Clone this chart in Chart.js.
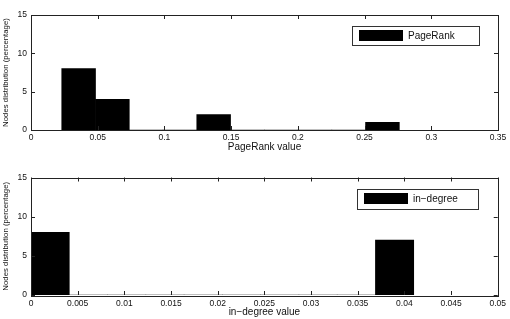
<!DOCTYPE html>
<html>
<head>
<meta charset="utf-8">
<script src="https://cdn.jsdelivr.net/npm/chart.js@4.4.1/dist/chart.umd.min.js"></script>
<style>
  html, body { margin: 0; padding: 0; background: #fff; }
  .box { position: absolute; left: 0; width: 510px; }
  #boxTop { top: 0; height: 160px; }
  #boxBot { top: 160px; height: 159px; }
</style>
</head>
<body>
<div class="box" id="boxTop"><canvas id="chartTop"></canvas></div>
<div class="box" id="boxBot"><canvas id="chartBot"></canvas></div>
<script>
// Histograma PageRank (centros de los intervalos y porcentaje de nodos)
const prCenters = [0.0357, 0.0610, 0.0863, 0.1116, 0.1369, 0.1622, 0.1875, 0.2128, 0.2381, 0.2634];
const prCounts  = [8, 4, 0, 0, 2, 0, 0, 0, 0, 1];
const prTicks   = [0, 0.05, 0.1, 0.15, 0.2, 0.25, 0.3, 0.35];

// Histograma in-degree
const inCenters = [0.00205, 0.00615, 0.01025, 0.01435, 0.01845, 0.02255, 0.02665, 0.03075, 0.03485, 0.03895];
const inCounts  = [8, 0, 0, 0, 0, 0, 0, 0, 0, 7];
const inTicks   = [0, 0.005, 0.01, 0.015, 0.02, 0.025, 0.03, 0.035, 0.04, 0.045, 0.05];

const yTicks = [0, 5, 10, 15];

const FONT = "'Liberation Sans', Arial, Helvetica, sans-serif";
const INK = '#111';

// Marco tipo MATLAB con marcas hacia dentro en los cuatro lados
const framePlugin = {
    id: 'frame',
    afterDraw(chart) {
        const { ctx, chartArea: a, scales } = chart;
        const len = 4;
        ctx.save();
        ctx.strokeStyle = '#222';
        ctx.lineWidth = 1;
        ctx.strokeRect(Math.round(a.left) + 0.5, Math.round(a.top) + 0.5,
            Math.round(a.right - a.left), Math.round(a.bottom - a.top));
        ctx.beginPath();
        scales.x.ticks.forEach(t => {
            const px = Math.round(scales.x.getPixelForValue(t.value)) + 0.5;
            ctx.moveTo(px, a.bottom); ctx.lineTo(px, a.bottom - len);
            ctx.moveTo(px, a.top); ctx.lineTo(px, a.top + len);
        });
        scales.y.ticks.forEach(t => {
            const py = Math.round(scales.y.getPixelForValue(t.value)) + 0.5;
            ctx.moveTo(a.left, py); ctx.lineTo(a.left + len, py);
            ctx.moveTo(a.right, py); ctx.lineTo(a.right - len, py);
        });
        ctx.stroke();
        ctx.restore();
    }
};

// Leyenda con recuadro, como en la figura original
const boxLegendPlugin = {
    id: 'boxLegend',
    afterDraw(chart, args, opts) {
        const { ctx } = chart;
        const ds = chart.data.datasets[0];
        ctx.save();
        ctx.fillStyle = '#fff';
        ctx.fillRect(opts.x, opts.y, opts.w, opts.h);
        ctx.strokeStyle = '#333';
        ctx.lineWidth = 1;
        ctx.strokeRect(opts.x + 0.5, opts.y + 0.5, opts.w, opts.h);
        ctx.fillStyle = ds.backgroundColor;
        ctx.fillRect(opts.x + 7, opts.y + 4, 44, 11);
        ctx.fillStyle = INK;
        ctx.font = '10px ' + FONT;
        ctx.textBaseline = 'middle';
        ctx.fillText(ds.label, opts.x + 56, opts.y + opts.h / 2 + 0.5);
        ctx.restore();
    }
};

function fmt(v) {
    return String(parseFloat(v.toFixed(4)));
}

function makeChart(id, centers, counts, label, xTicks, xTitle, cfg) {
    const ctx = document.getElementById(id).getContext('2d');
    return new Chart(ctx, {
        type: 'bar',
        data: {
            datasets: [{
                label: label,
                data: centers.map((c, i) => ({ x: c, y: counts[i] })),
                backgroundColor: '#000',
                borderWidth: 0,
                barPercentage: 1,
                categoryPercentage: 1
            }]
        },
        options: {
            responsive: true,
            maintainAspectRatio: false,
            animation: false,
            layout: { padding: cfg.padding },
            plugins: {
                legend: { display: false },
                tooltip: { enabled: false },
                boxLegend: cfg.legend
            },
            scales: {
                x: {
                    type: 'linear',
                    offset: false,
                    min: xTicks[0],
                    max: xTicks[xTicks.length - 1],
                    afterBuildTicks: s => { s.ticks = xTicks.map(v => ({ value: v })); },
                    afterFit: s => { s.height = cfg.xHeight; },
                    grid: { display: false, drawTicks: false },
                    border: { display: false },
                    ticks: {
                        autoSkip: false,
                        maxRotation: 0,
                        padding: cfg.tickPad,
                        color: INK,
                        font: { family: FONT, size: 8.5 },
                        callback: v => fmt(v)
                    },
                    title: {
                        display: true,
                        text: xTitle,
                        color: INK,
                        font: { family: FONT, size: 10 },
                        padding: 0
                    }
                },
                y: {
                    min: 0,
                    max: 15,
                    afterBuildTicks: s => { s.ticks = yTicks.map(v => ({ value: v })); },
                    afterFit: s => { s.width = 31; },
                    grid: { display: false, drawTicks: false },
                    border: { display: false },
                    ticks: {
                        padding: 4,
                        color: INK,
                        font: { family: FONT, size: 8.5 }
                    },
                    title: {
                        display: true,
                        text: 'Nodes distribution (percentage)',
                        color: INK,
                        font: { family: FONT, size: 7.8 },
                        padding: { top: 1, bottom: 0 }
                    }
                }
            }
        },
        plugins: [framePlugin, boxLegendPlugin]
    });
}

makeChart('chartTop', prCenters, prCounts, 'PageRank', prTicks, 'PageRank value', {
    padding: { left: 0, right: 12, top: 15, bottom: 7 },
    xHeight: 23,
    tickPad: 3,
    legend: { x: 352, y: 26, w: 127, h: 19 }
});

makeChart('chartBot', inCenters, inCounts, 'in\u2212degree', inTicks, 'in\u2212degree value', {
    padding: { left: 0, right: 11, top: 17.5, bottom: 1 },
    xHeight: 23,
    tickPad: 4,
    legend: { x: 357, y: 29, w: 121, h: 20 }
});
</script>
</body>
</html>
